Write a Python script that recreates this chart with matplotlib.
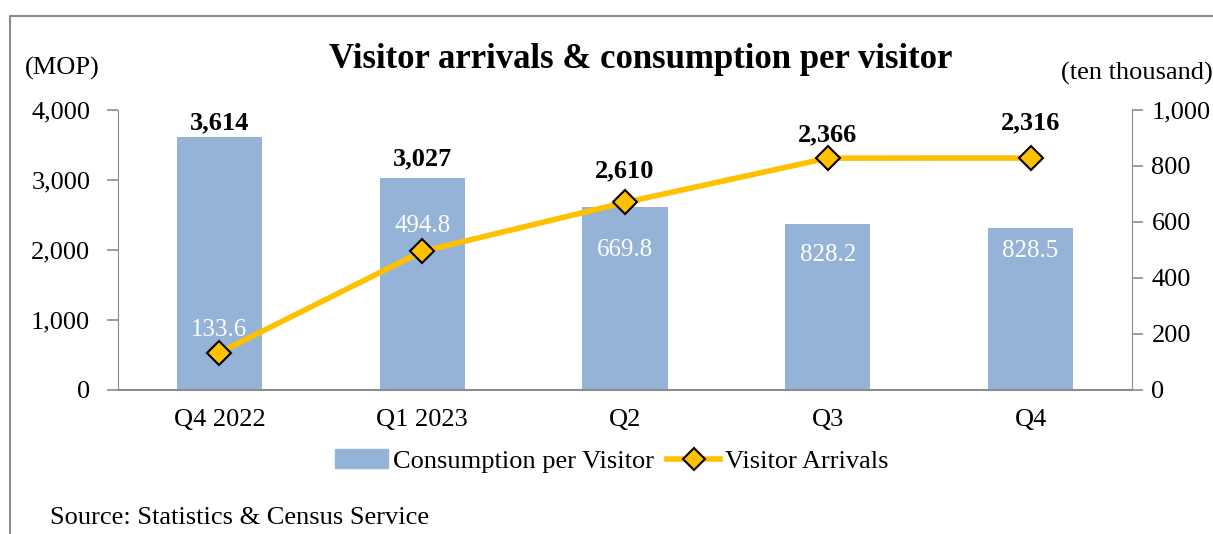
import matplotlib.pyplot as plt
from matplotlib.lines import Line2D
from matplotlib.patches import Patch

quarters = ['Q4 2022', 'Q1 2023', 'Q2', 'Q3', 'Q4']
consumption = [3614, 3027, 2610, 2366, 2316]
arrivals = [133.6, 494.8, 669.8, 828.2, 828.5]

# label offsets (points) - hand placed like the original
bar_lab_off = [10, 14, 23, 17, 25]
line_lab_off = [16, 18, -34, -70, -67]

plt.rcParams['font.family'] = ['Liberation Serif', 'DejaVu Serif']
bar_color = '#95B3D7'
line_color = '#FFC000'
grey = '#8C8C8C'

fig = plt.figure(figsize=(12.13, 5.34), dpi=100)
ax = fig.add_axes([118 / 1213, 1 - 390 / 534, 1014 / 1213, 280 / 534])
ax2 = ax.twinx()

x = range(len(quarters))
ax.bar(x, consumption, width=0.42, color=bar_color, zorder=2)
ax2.plot(x, arrivals, color=line_color, lw=4, marker='D', ms=12,
         mfc=line_color, mec='black', mew=1.5, zorder=3)

ax.set_xlim(-0.5, 4.5)
ax.set_ylim(0, 4000)
ax2.set_ylim(0, 1000)
ax.set_yticks(range(0, 4001, 1000))
ax2.set_yticks(range(0, 1001, 200))
ax.set_yticklabels([f'{v:,}' for v in range(0, 4001, 1000)])
ax2.set_yticklabels([f'{v:,}' for v in range(0, 1001, 200)])
ax.set_xticks(list(x))
ax.set_xticklabels(quarters)

for a in (ax, ax2):
    for s in a.spines.values():
        s.set_visible(False)
    a.tick_params(labelsize=19, colors='black', width=1.2, length=8)
ax.spines['left'].set_visible(True)
ax.spines['left'].set_color(grey)
ax.spines['bottom'].set_visible(True)
ax.spines['bottom'].set_color(grey)
ax.spines['bottom'].set_linewidth(1.5)
ax2.spines['right'].set_visible(True)
ax2.spines['right'].set_color(grey)
ax.tick_params(axis='y', color=grey, pad=12)
ax2.tick_params(axis='y', color=grey, pad=6)
ax.tick_params(axis='x', length=0, pad=14)
ax.set_zorder(1)
ax2.set_zorder(2)
ax.patch.set_visible(False)

for i in x:
    top = max(consumption[i], arrivals[i] * 4)
    ax.annotate(f'{consumption[i]:,}', (i, top), xytext=(0, bar_lab_off[i]),
                textcoords='offset points', ha='center', va='center',
                fontsize=19, fontweight='bold', zorder=5)
    ax2.annotate(f'{arrivals[i]:.1f}', (i, arrivals[i]), xytext=(0, line_lab_off[i]),
                 textcoords='offset points', ha='center', va='center',
                 fontsize=18, color='white', zorder=5)

fig.text(641 / 1213, 1 - 60 / 534, 'Visitor arrivals & consumption per visitor',
         ha='center', va='center', fontsize=25, fontweight='bold')
fig.text(25 / 1213, 1 - 68 / 534, '(MOP)', ha='left', va='center', fontsize=19)
fig.text(1213 / 1213, 1 - 73 / 534, '(ten thousand)', ha='right', va='center', fontsize=19)
fig.text(50 / 1213, 1 - 518 / 534, 'Source: Statistics & Census Service',
         ha='left', va='center', fontsize=19)

handles = [Patch(color=bar_color, label='Consumption per Visitor'),
           Line2D([], [], color=line_color, lw=4, marker='D', ms=11, mfc=line_color,
                  mec='black', mew=1.5, label='Visitor Arrivals')]
fig.legend(handles=handles, loc='center', bbox_to_anchor=(612 / 1213, 1 - 461 / 534),
           ncol=2, frameon=False, fontsize=19, handlelength=2.0, handletextpad=0.2,
           columnspacing=0.5)

# outer frame (left and top edges only visible in the crop)
fig.add_artist(Line2D([10 / 1213, 10 / 1213, 1], [0, 1 - 16 / 534, 1 - 16 / 534],
                      color=grey, lw=1.5, transform=fig.transFigure))

fig.savefig('out.png', dpi=100)
